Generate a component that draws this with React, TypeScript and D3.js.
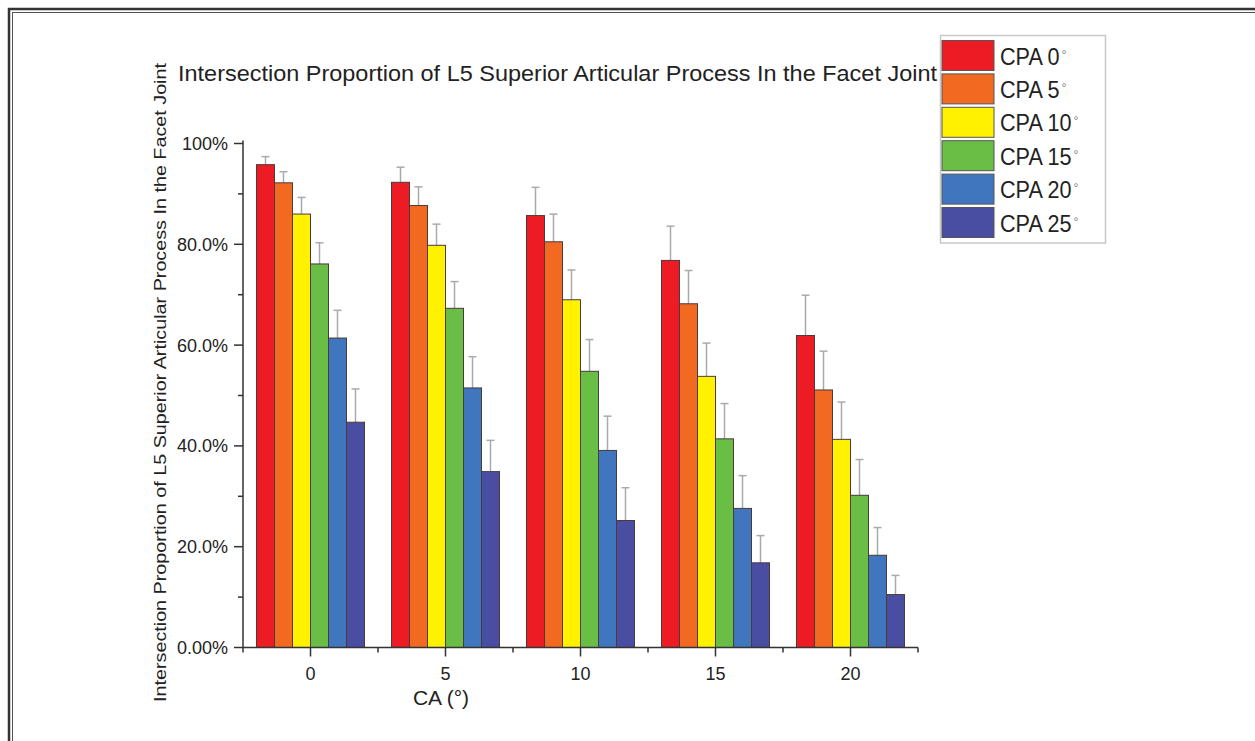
import React from "react";
import * as d3 from "d3";

const categories = [0, 5, 10, 15, 20];
const seriesNames = ["CPA 0", "CPA 5", "CPA 10", "CPA 15", "CPA 20", "CPA 25"];
const seriesColors = ["#ED1C24", "#F26A22", "#FFF100", "#6ABD45", "#4076BD", "#4A4EA2"];

const cpa0 = [95.8, 92.3, 85.7, 76.8, 61.9];
const cpa5 = [92.2, 87.7, 80.5, 68.2, 51.1];
const cpa10 = [86.0, 79.8, 69.0, 53.8, 41.3];
const cpa15 = [76.1, 67.3, 54.8, 41.4, 30.2];
const cpa20 = [61.4, 51.5, 39.1, 27.6, 18.3];
const cpa25 = [44.7, 34.9, 25.2, 16.8, 10.5];

const err0 = [1.6, 3.0, 5.6, 6.8, 8.0];
const err5 = [2.2, 3.7, 5.5, 6.6, 7.7];
const err10 = [3.3, 4.2, 5.9, 6.6, 7.4];
const err15 = [4.2, 5.3, 6.3, 7.0, 7.1];
const err20 = [5.5, 6.2, 6.8, 6.5, 5.5];
const err25 = [6.6, 6.2, 6.5, 5.4, 3.8];

const yTickValues = [0, 20, 40, 60, 80, 100];
const yTickLabels = ["0.00%", "20.0%", "40.0%", "60.0%", "80.0%", "100%"];
const yMinorTicks = [10, 30, 50, 70, 90];
const xMinorTicks = [-2.5, 2.5, 7.5, 12.5, 17.5, 22.5];

const titleText = "Intersection Proportion of L5 Superior Articular Process In the Facet Joint";
const yLabelText = "Intersection Proportion of L5 Superior Articular Process In the Facet Joint";
const xLabelText = "CA (°)";

const means = [cpa0, cpa5, cpa10, cpa15, cpa20, cpa25];
const errs = [err0, err5, err10, err15, err20, err25];

export default function App() {
  const x = d3.scaleLinear().domain([-2.5, 22.5]).range([243, 918]);
  const y = d3.scaleLinear().domain([0, 100]).range([647.5, 143.5]);
  const sub = d3.scaleBand<string>().domain(seriesNames).range([-2, 2]).padding(0);
  const font = "'Liberation Sans', Arial, sans-serif";
  const axisColor = "#333";

  return (
    <svg width={1255} height={741} style={{ position: "absolute", left: 0, top: 0, background: "#fff" }}>
      <rect x={0} y={0} width={1255} height={741} fill="#fff" />
      {/* frame */}
      <rect x={9} y={9} width={1300} height={800} fill="none" stroke="#333" strokeWidth={2.5} />
      <rect x={12.5} y={12.5} width={1300} height={800} fill="none" stroke="#555" strokeWidth={1} />

      {/* title */}
      <text x={178} y={81} fontFamily={font} fontSize={21.5} fill="#222" textLength={759} lengthAdjust="spacingAndGlyphs">
        {titleText}
      </text>

      {/* y label */}
      <text
        transform={`translate(166,382.5) rotate(-90)`}
        textAnchor="middle"
        fontFamily={font}
        fontSize={16.5}
        fill="#222"
        textLength={639}
        lengthAdjust="spacingAndGlyphs"
      >
        {yLabelText}
      </text>

      {/* bars */}
      {means.map((vals, si) =>
        vals.map((v, ci) => {
          const c = categories[ci];
          const x0 = x(c + (sub(seriesNames[si]) as number));
          const x1 = x(c + (sub(seriesNames[si]) as number) + sub.bandwidth());
          const cx = (x0 + x1) / 2;
          const top = y(v + errs[si][ci]);
          return (
            <g key={`${si}-${ci}`}>
              <line x1={cx} x2={cx} y1={y(v)} y2={top} stroke="#aaa" strokeWidth={1.5} />
              <line x1={cx - 4} x2={cx + 4} y1={top} y2={top} stroke="#aaa" strokeWidth={1.5} />
              <rect
                x={x0}
                y={y(v)}
                width={x1 - x0}
                height={y(0) - y(v)}
                fill={seriesColors[si]}
                stroke="#4a3a3a"
                strokeWidth={1}
              />
            </g>
          );
        })
      )}

      {/* y axis */}
      <line x1={243} x2={243} y1={y(100) - 3} y2={y(0)} stroke={axisColor} strokeWidth={1.5} />
      {yTickValues.map((t, i) => (
        <g key={`yt${t}`}>
          <line x1={234} x2={243} y1={y(t)} y2={y(t)} stroke={axisColor} strokeWidth={1.5} />
          <text x={228} y={y(t) + 6.5} textAnchor="end" fontFamily={font} fontSize={18} fill="#222">
            {yTickLabels[i]}
          </text>
        </g>
      ))}
      {yMinorTicks.map((t) => (
        <line key={`ym${t}`} x1={238} x2={243} y1={y(t)} y2={y(t)} stroke={axisColor} strokeWidth={1.5} />
      ))}

      {/* x axis */}
      <line x1={x(-2.5)} x2={x(22.5)} y1={y(0)} y2={y(0)} stroke={axisColor} strokeWidth={1.5} />
      {categories.map((c) => (
        <g key={`xt${c}`}>
          <line x1={x(c)} x2={x(c)} y1={y(0)} y2={y(0) + 9} stroke={axisColor} strokeWidth={1.5} />
          <text x={x(c)} y={680} textAnchor="middle" fontFamily={font} fontSize={18} fill="#222">
            {c}
          </text>
        </g>
      ))}
      {xMinorTicks.map((t) => (
        <line key={`xm${t}`} x1={x(t)} x2={x(t)} y1={y(0)} y2={y(0) + 5} stroke={axisColor} strokeWidth={1.5} />
      ))}
      <text x={441} y={705} textAnchor="middle" fontFamily={font} fontSize={21} fill="#222">
        {xLabelText}
      </text>

      {/* legend */}
      <rect x={940.5} y={35.5} width={165} height={207.5} fill="#fff" stroke="#c8c8c8" strokeWidth={1.5} />
      {seriesNames.map((s, i) => {
        const top = 40.5 + i * 33.4;
        return (
          <g key={`lg${s}`}>
            <rect x={942} y={top} width={52} height={30} fill={seriesColors[i]} stroke="#555" strokeWidth={1} />
            <g transform={`translate(1000,${top + 24}) scale(0.9,1)`}>
              <text x={0} y={0} fontFamily={font} fontSize={24} fill="#222">
                {s}
                <tspan fontSize={14} fill="#888" dx={2} dy={-5}>°</tspan>
              </text>
            </g>
          </g>
        );
      })}
    </svg>
  );
}
